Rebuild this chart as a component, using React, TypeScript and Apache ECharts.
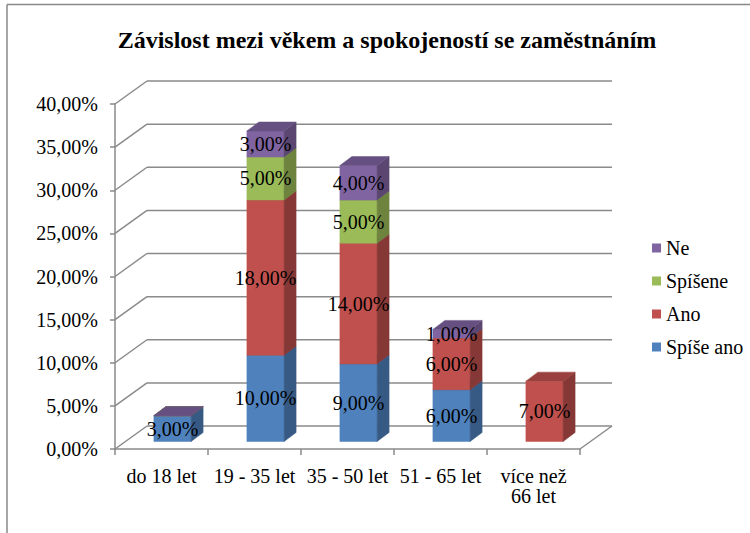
import React, { useEffect, useRef } from 'react';
import * as echarts from 'echarts';

const categories = ['do 18 let', '19 - 35 let', '35 - 50 let', '51 - 65 let', 'více než\n66 let'];
const seriesNames = ['Spíše ano', 'Ano', 'Spíšene', 'Ne'];
const spiseAno = [3, 10, 9, 6, null];
const ano = [0, 18, 14, 6, 7];
const spisene = [0, 5, 5, null, null];
const ne = [0, 3, 4, 1, null];
const yTicks = [0, 5, 10, 15, 20, 25, 30, 35, 40];
const legendOrder = ['Ne', 'Spíšene', 'Ano', 'Spíše ano'];
const colors = ['#4F81BD', '#C0504D', '#9BBB59', '#8064A2'];
const titleText = 'Závislost mezi věkem a spokojeností se zaměstnáním';

const FONT = 'Liberation Serif';
const GRID_COLOR = '#8a8a8a';
const WALL_DX = 32;
const WALL_DY = -23;
const BAR_OFF_X = 11;
const BAR_OFF_Y = -7.5;
const BAR_DX = 12;
const BAR_DY = -9;

function shade(hex: string, f: number): string {
  const n = parseInt(hex.slice(1), 16);
  const r = Math.round(((n >> 16) & 255) * f);
  const g = Math.round(((n >> 8) & 255) * f);
  const b = Math.round((n & 255) * f);
  return `rgb(${r},${g},${b})`;
}

const fmt = (v: number) => v.toFixed(2).replace('.', ',') + '%';

export default function App() {
  const ref = useRef<HTMLDivElement>(null);
  useEffect(() => {
    const chart = echarts.init(ref.current!, null, { renderer: 'svg' });
    const all = [spiseAno, ano, spisene, ne];
    const bases = categories.map(() => 0);
    const segData: any[][] = [];
    const labelData: any[] = [];
    all.forEach((arr) => {
      const d: any[] = [];
      arr.forEach((v, i) => {
        if (v === null || v === undefined) return;
        const b = bases[i];
        const t = b + v;
        d.push([i, b, t, v]);
        if (v > 0) labelData.push([i, (b + t) / 2, v]);
        bases[i] = t;
      });
      segData.push(d);
    });

    const barRender = (ci: number) => (params: any, api: any) => {
      const cat = api.value(0);
      const pb = api.coord([cat, api.value(1)]);
      const pt = api.coord([cat, api.value(2)]);
      const w = api.size([1, 0])[0] * 0.4;
      const x0 = pb[0] + BAR_OFF_X - w / 2;
      const x1 = x0 + w;
      const yb = pb[1] + BAR_OFF_Y;
      const yt = pt[1] + BAR_OFF_Y;
      const c = colors[ci];
      const side = shade(c, 0.7);
      const top = shade(c, 0.8);
      return {
        type: 'group',
        children: [
          {
            type: 'polygon',
            shape: { points: [[x0, yb], [x1, yb], [x1, yt], [x0, yt]] },
            style: { fill: c, stroke: c, lineWidth: 0.5 },
          },
          {
            type: 'polygon',
            shape: { points: [[x1, yb], [x1 + BAR_DX, yb + BAR_DY], [x1 + BAR_DX, yt + BAR_DY], [x1, yt]] },
            style: { fill: side, stroke: side, lineWidth: 0.5 },
          },
          {
            type: 'polygon',
            shape: { points: [[x0, yt], [x1, yt], [x1 + BAR_DX, yt + BAR_DY], [x0 + BAR_DX, yt + BAR_DY]] },
            style: { fill: top, stroke: top, lineWidth: 0.5 },
          },
        ],
      };
    };

    const barSeries = seriesNames.map((name, si) => ({
      type: 'custom',
      name,
      z: 3,
      itemStyle: { color: colors[si] },
      renderItem: barRender(si),
      data: segData[si],
      silent: true,
    }));

    const wallSeries = {
      type: 'custom',
      name: 'walls',
      z: 1,
      silent: true,
      data: yTicks.map((v) => [0, v]),
      renderItem: (params: any, api: any) => {
        const cs = params.coordSys;
        const y = api.coord([0, api.value(1)])[1];
        const x0 = cs.x;
        const x1 = cs.x + cs.width;
        const st = { stroke: GRID_COLOR, lineWidth: 1.5 };
        const children: any[] = [
          { type: 'line', shape: { x1: x0, y1: y, x2: x0 + WALL_DX, y2: y + WALL_DY }, style: st },
          { type: 'line', shape: { x1: x0 + WALL_DX, y1: y + WALL_DY, x2: x1 + WALL_DX, y2: y + WALL_DY }, style: st },
        ];
        if (api.value(1) === 0) {
          children.push({ type: 'line', shape: { x1: x1, y1: y, x2: x1 + WALL_DX, y2: y + WALL_DY }, style: st });
        }
        return { type: 'group', children };
      },
    };

    const labelSeries = {
      type: 'custom',
      name: 'labels',
      z: 5,
      silent: true,
      data: labelData,
      renderItem: (params: any, api: any) => {
        const p = api.coord([api.value(0), api.value(1)]);
        return {
          type: 'text',
          style: {
            x: p[0] + BAR_OFF_X,
            y: p[1] + BAR_OFF_Y,
            text: fmt(api.value(2)),
            fill: '#000',
            fontFamily: FONT,
            fontSize: 20,
            align: 'center',
            verticalAlign: 'middle',
          },
        };
      },
    };

    chart.setOption({
      animation: false,
      backgroundColor: '#fff',
      grid: { left: 115, right: 170, top: 104, bottom: 84, containLabel: false },
      xAxis: {
        type: 'category',
        data: categories,
        boundaryGap: true,
        axisLine: { show: true, lineStyle: { color: GRID_COLOR, width: 1.5 } },
        axisTick: { show: true, length: 6, lineStyle: { color: GRID_COLOR, width: 1.5 } },
        axisLabel: { color: '#000', fontFamily: FONT, fontSize: 20, margin: 17, interval: 0 },
        splitLine: { show: false },
      },
      yAxis: {
        type: 'value',
        min: 0,
        max: 40,
        interval: 5,
        axisLine: { show: true, lineStyle: { color: GRID_COLOR, width: 1.5 } },
        axisTick: { show: true, length: 5, lineStyle: { color: GRID_COLOR, width: 1.5 } },
        axisLabel: { color: '#000', fontFamily: FONT, fontSize: 20, margin: 17, formatter: (v: number) => fmt(v) },
        splitLine: { show: false },
      },
      legend: {
        data: legendOrder,
        orient: 'vertical',
        left: 652,
        top: 238,
        padding: 0,
        icon: 'rect',
        itemWidth: 9,
        itemHeight: 9,
        itemGap: 13,
        selectedMode: false,
        textStyle: { color: '#000', fontFamily: FONT, fontSize: 20 },
      },
      graphic: [
        {
          type: 'line',
          shape: { x1: 7, y1: 4.5, x2: 760, y2: 4.5 },
          style: { stroke: '#888', lineWidth: 1.5 },
          silent: true,
        },
        {
          type: 'line',
          shape: { x1: 7, y1: 4.5, x2: 7, y2: 540 },
          style: { stroke: '#888', lineWidth: 1.5 },
          silent: true,
        },
        {
          type: 'text',
          x: 387,
          y: 28,
          style: {
            text: titleText,
            fontFamily: FONT,
            fontSize: 24,
            fontWeight: 'bold',
            fill: '#000',
            align: 'center',
          },
          silent: true,
        },
      ],
      series: [wallSeries, ...barSeries, labelSeries],
    });
    return () => chart.dispose();
  }, []);
  return <div ref={ref} style={{ position: 'absolute', left: 0, top: 0, width: 750, height: 533 }} />;
}
